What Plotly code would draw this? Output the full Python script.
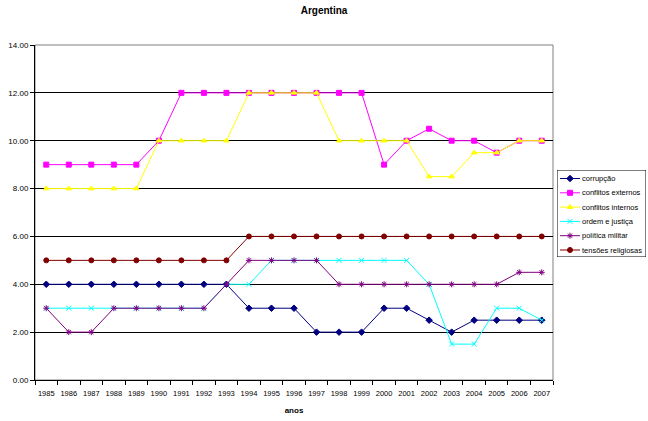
import plotly.graph_objects as go

years = [str(y) for y in range(1985, 2008)]

corrupcao = [4, 4, 4, 4, 4, 4, 4, 4, 4, 3, 3, 3, 2, 2, 2, 3, 3, 2.5, 2, 2.5, 2.5, 2.5, 2.5]
conflitos_externos = [9, 9, 9, 9, 9, 10, 12, 12, 12, 12, 12, 12, 12, 12, 12, 9, 10, 10.5, 10, 10, 9.5, 10, 10]
conflitos_internos = [8, 8, 8, 8, 8, 10, 10, 10, 10, 12, 12, 12, 12, 10, 10, 10, 10, 8.5, 8.5, 9.5, 9.5, 10, 10]
ordem_justica = [3, 3, 3, 3, 3, 3, 3, 3, 4, 4, 5, 5, 5, 5, 5, 5, 5, 4, 1.5, 1.5, 3, 3, 2.5]
politica_militar = [3, 2, 2, 3, 3, 3, 3, 3, 4, 5, 5, 5, 5, 4, 4, 4, 4, 4, 4, 4, 4, 4.5, 4.5]
tensoes_religiosas = [5, 5, 5, 5, 5, 5, 5, 5, 5, 6, 6, 6, 6, 6, 6, 6, 6, 6, 6, 6, 6, 6, 6]

series = [
    ("corrupção", corrupcao, "#000080", "diamond", 5),
    ("conflitos externos", conflitos_externos, "#FF00FF", "square", 5),
    ("conflitos internos", conflitos_internos, "#FFFF00", "triangle-up", 5),
    ("ordem e justiça", ordem_justica, "#00FFFF", "x-thin-open", 5),
    ("política militar", politica_militar, "#800080", "asterisk-open", 5),
    ("tensões religiosas", tensoes_religiosas, "#800000", "circle", 5),
]

FONT = "Liberation Sans, Arial, sans-serif"

W, H = 648, 421
ML, MR, MT, MB = 35, 0, 45, 41
PW = W - ML - MR
PH = H - MT - MB

# main plot occupies the left part; a small axis pair on the right hosts the key
MAIN_RIGHT = 553
KEY_L, KEY_R, KEY_T, KEY_B = 557, 646, 170, 257
ROW0, ROW_H = 178.5, 14.3

fig = go.Figure()
for name, vals, color, sym, size in series:
    fig.add_trace(go.Scatter(
        x=years, y=vals, name=name, mode="lines+markers",
        line=dict(color=color, width=1),
        marker=dict(symbol=sym, size=size, color=color,
                    line=dict(color=color, width=1)),
        showlegend=False, cliponaxis=False,
    ))

shapes = [dict(type="rect", xref="x domain", yref="y domain", x0=0, x1=1, y0=0, y1=1,
               line=dict(color="#808080", width=1), layer="below"),
          dict(type="rect", xref="x2", yref="y2", x0=KEY_L, x1=KEY_R, y0=KEY_T, y1=KEY_B,
               line=dict(color="black", width=1), fillcolor="white", layer="below")]
annotations = []
for i, (name, vals, color, sym, size) in enumerate(series):
    ry = ROW0 + i * ROW_H
    shapes.append(dict(type="line", xref="x2", yref="y2", x0=560, x1=580, y0=ry, y1=ry,
                       line=dict(color=color, width=1)))
    fig.add_trace(go.Scatter(
        x=[570], y=[ry], xaxis="x2", yaxis="y2", mode="markers",
        marker=dict(symbol=sym, size=size, color=color, line=dict(color=color, width=1)),
        showlegend=False, hoverinfo="skip", cliponaxis=False,
    ))
    annotations.append(dict(x=580, y=ry, xref="x2", yref="y2", text=name,
                            showarrow=False, xanchor="left", yanchor="middle",
                            font=dict(size=7.5, family=FONT, color="black")))

fig.update_layout(
    width=W, height=H,
    margin=dict(l=ML, r=MR, t=MT, b=MB, autoexpand=False),
    paper_bgcolor="white", plot_bgcolor="white",
    font=dict(family=FONT, size=8, color="black"),
    title=dict(text="<b>Argentina</b>", x=0.5, xanchor="center",
               y=0.983, yanchor="top", font=dict(size=10, family=FONT)),
    showlegend=False,
    xaxis=dict(
        type="category", range=[-0.5, 22.5], domain=[0, (MAIN_RIGHT - ML) / PW],
        showline=True, linecolor="black", linewidth=1,
        ticks="outside", ticklen=4, tickcolor="black",
        tickson="boundaries", showgrid=False, tickangle=0,
        ticklabelstandoff=6,
        tickfont=dict(size=7.5),
        title=dict(text="<b>anos</b>", font=dict(size=8), standoff=10),
    ),
    yaxis=dict(
        range=[0, 14], dtick=2, tickformat=".2f",
        showline=True, linecolor="black", linewidth=1,
        ticks="outside", ticklen=4, tickcolor="black",
        showgrid=True, gridcolor="black", gridwidth=1,
        zeroline=False, tickfont=dict(size=8),
    ),
    xaxis2=dict(domain=[(KEY_L - ML) / PW, (KEY_R - ML) / PW], range=[KEY_L, KEY_R],
                visible=False, anchor="y2", fixedrange=True),
    yaxis2=dict(domain=[(H - MB - KEY_B) / PH, (H - MB - KEY_T) / PH], range=[KEY_B, KEY_T],
                visible=False, anchor="x2", fixedrange=True),
    shapes=shapes,
    annotations=annotations,
)

fig.write_html("out.html")
